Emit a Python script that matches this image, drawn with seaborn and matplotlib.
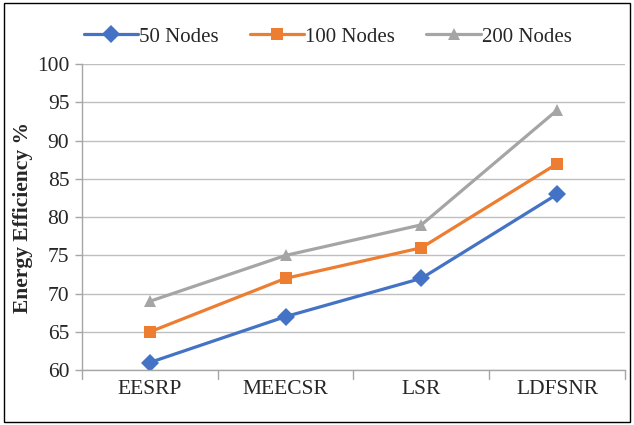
import matplotlib
matplotlib.use("Agg")
import matplotlib.pyplot as plt
import seaborn as sns
import pandas as pd
from matplotlib.patches import Rectangle

categories = ["EESRP", "MEECSR", "LSR", "LDFSNR"]
nodes_50 = [61, 67, 72, 83]
nodes_100 = [65, 72, 76, 87]
nodes_200 = [69, 75, 79, 94]
series_names = ["50 Nodes", "100 Nodes", "200 Nodes"]
y_ticks = [60, 65, 70, 75, 80, 85, 90, 95, 100]

rows = []
for name, vals in zip(series_names, [nodes_50, nodes_100, nodes_200]):
    for i, (c, v) in enumerate(zip(categories, vals)):
        rows.append({"Method": c, "x": i, "Value": v, "Series": name})
df = pd.DataFrame(rows)

sns.set_theme(style="white")
plt.rcParams["font.family"] = ["Liberation Serif", "DejaVu Serif"]

fig = plt.figure(figsize=(6.34, 4.25), dpi=100)
ax = fig.add_axes([0.129, 0.129, 0.857, 0.72])

palette = {"50 Nodes": "#4472C4", "100 Nodes": "#ED7D31", "200 Nodes": "#A5A5A5"}
markers = {"50 Nodes": "D", "100 Nodes": "s", "200 Nodes": "^"}
sns.lineplot(data=df, x="x", y="Value", hue="Series", style="Series",
             palette=palette, markers=markers, dashes=False, linewidth=2.3,
             markersize=9, markeredgewidth=0, ax=ax, legend=True)

FS = 15.5
ax.set_xlim(-0.5, 3.5)
ax.set_ylim(60, 100)
ax.set_yticks(y_ticks)
ax.set_yticklabels([str(t) for t in y_ticks], fontsize=FS)
ax.set_xticks(range(len(categories)))
ax.set_xticklabels(categories, fontsize=FS)
ax.tick_params(axis="x", length=0, pad=7)
ax.tick_params(axis="y", length=5, color="#A6A6A6", width=1, left=True, pad=4)
# category boundary tick marks
for b in [-0.5, 0.5, 1.5, 2.5, 3.5]:
    ax.plot([b, b], [0, -0.03], transform=ax.get_xaxis_transform(),
            color="#A6A6A6", lw=1, clip_on=False)
ax.grid(axis="y", color="#BFBFBF", lw=1)
ax.set_axisbelow(True)
for s in ["top", "right"]:
    ax.spines[s].set_visible(False)
for s in ["left", "bottom"]:
    ax.spines[s].set_color("#A6A6A6")
    ax.spines[s].set_linewidth(1)
ax.set_xlabel("")
ax.set_ylabel("Energy Efficiency %", fontsize=FS, fontweight="bold", labelpad=3)

handles, labels = ax.get_legend_handles_labels()
ax.get_legend().remove()
fig.legend(handles, labels, loc="center", bbox_to_anchor=(0.517, 0.913), ncol=3,
           frameon=False, fontsize=15, handlelength=2.6, columnspacing=1.5,
           handletextpad=0.05)

fig.patches.append(Rectangle((0.006, 0.008), 0.988, 0.984, transform=fig.transFigure,
                             fill=False, edgecolor="black", lw=1))

fig.savefig("out.png", dpi=100)
